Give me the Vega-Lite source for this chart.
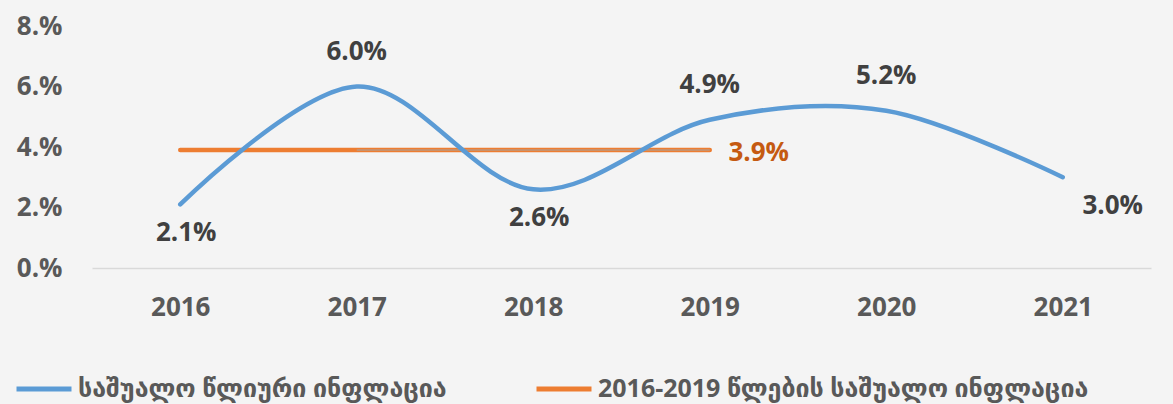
{
  "$schema": "https://vega.github.io/schema/vega-lite/v6.json",
  "autosize": {"type": "none"},
  "padding": {"left": 92, "top": 26, "right": 22, "bottom": 136},
  "width": 1059,
  "height": 242,
  "background": "#f4f4f4",
  "config": {
    "view": {"stroke": null},
    "font": "Open Sans, DejaVu Sans, sans-serif"
  },
  "datasets": {
    "annual": [
      {"year": "2016", "value": 0.021, "series": "საშუალო წლიური ინფლაცია"},
      {"year": "2017", "value": 0.060, "series": "საშუალო წლიური ინფლაცია"},
      {"year": "2018", "value": 0.026, "series": "საშუალო წლიური ინფლაცია"},
      {"year": "2019", "value": 0.049, "series": "საშუალო წლიური ინფლაცია"},
      {"year": "2020", "value": 0.052, "series": "საშუალო წლიური ინფლაცია"},
      {"year": "2021", "value": 0.030, "series": "საშუალო წლიური ინფლაცია"}
    ],
    "avg": [
      {"year": "2016", "value": 0.039, "series": "2016-2019 წლების საშუალო ინფლაცია"},
      {"year": "2019", "value": 0.039, "series": "2016-2019 წლების საშუალო ინფლაცია"}
    ],
    "leader": [
      {"from": "2017", "to": "2019", "value": 0.039}
    ]
  },
  "encoding": {
    "x": {
      "field": "year", "type": "ordinal",
      "scale": {"type": "point", "padding": 0.5, "domain": ["2016","2017","2018","2019","2020","2021"]},
      "axis": {
        "title": null, "labelAngle": 0, "ticks": false,
        "domainColor": "#d9d9d9", "domainWidth": 1.5,
        "labelFont": "Open Sans", "labelFontSize": 26, "labelFontWeight": "bold",
        "labelColor": "#595959", "labelPadding": 26
      }
    },
    "y": {
      "field": "value", "type": "quantitative",
      "scale": {"domain": [0, 0.08], "nice": false},
      "axis": {
        "title": null, "values": [0, 0.02, 0.04, 0.06, 0.08], "grid": false, "domain": false, "ticks": false,
        "labelExpr": "format(datum.value * 100, 'd') + '.%'",
        "labelFont": "Open Sans", "labelFontSize": 26, "labelFontWeight": "bold",
        "labelColor": "#595959", "labelPadding": 30
      }
    }
  },
  "layer": [
    {
      "data": {"name": "avg"},
      "mark": {"type": "line", "strokeWidth": 4.5, "strokeCap": "round"},
      "encoding": {
        "color": {
          "field": "series", "type": "nominal",
          "scale": {
            "domain": ["საშუალო წლიური ინფლაცია", "2016-2019 წლების საშუალო ინფლაცია"],
            "range": ["#5b9bd5", "#ed7d31"]
          },
          "legend": {
            "title": null, "orient": "none", "direction": "horizontal",
            "legendX": -78, "legendY": 333,
            "symbolType": "stroke", "symbolSize": 3025, "symbolStrokeWidth": 5,
            "labelFont": "Open Sans, DejaVu Sans", "labelFontSize": 25, "labelFontWeight": "bold",
            "labelColor": "#595959", "labelLimit": 700, "columnPadding": 79, "labelOffset": 4
          }
        }
      }
    },
    {
      "data": {"name": "leader"},
      "mark": {"type": "rule", "color": "#a6a6a6", "strokeWidth": 1},
      "encoding": {
        "x": {"field": "from", "type": "ordinal"},
        "x2": {"field": "to"},
        "y": {"field": "value", "type": "quantitative"}
      }
    },
    {
      "data": {"name": "annual"},
      "mark": {"type": "line", "strokeWidth": 4.5, "interpolate": "cardinal", "strokeCap": "round"},
      "encoding": {
        "color": {"field": "series", "type": "nominal"}
      }
    },
    {
      "data": {"name": "annual"},
      "transform": [{"filter": "indexof(['2017','2019','2020'], datum.year) >= 0"}],
      "mark": {"type": "text", "dy": -35, "fontSize": 26, "fontWeight": "bold", "color": "#404040", "font": "Open Sans"},
      "encoding": {"text": {"field": "value", "type": "quantitative", "format": ".1%"}}
    },
    {
      "data": {"name": "annual"},
      "transform": [{"filter": "indexof(['2016','2018'], datum.year) >= 0"}],
      "mark": {"type": "text", "dy": 29, "dx": 6, "fontSize": 26, "fontWeight": "bold", "color": "#404040", "font": "Open Sans"},
      "encoding": {"text": {"field": "value", "type": "quantitative", "format": ".1%"}}
    },
    {
      "data": {"name": "annual"},
      "transform": [{"filter": "datum.year == '2021'"}],
      "mark": {"type": "text", "dy": 29, "dx": 50, "fontSize": 26, "fontWeight": "bold", "color": "#404040", "font": "Open Sans"},
      "encoding": {"text": {"field": "value", "type": "quantitative", "format": ".1%"}}
    },
    {
      "data": {"name": "avg"},
      "transform": [{"filter": "datum.year == '2019'"}],
      "mark": {"type": "text", "dx": 49, "dy": 3, "fontSize": 26, "fontWeight": "bold", "color": "#c55a11", "font": "Open Sans"},
      "encoding": {"text": {"field": "value", "type": "quantitative", "format": ".1%"}}
    }
  ]
}
